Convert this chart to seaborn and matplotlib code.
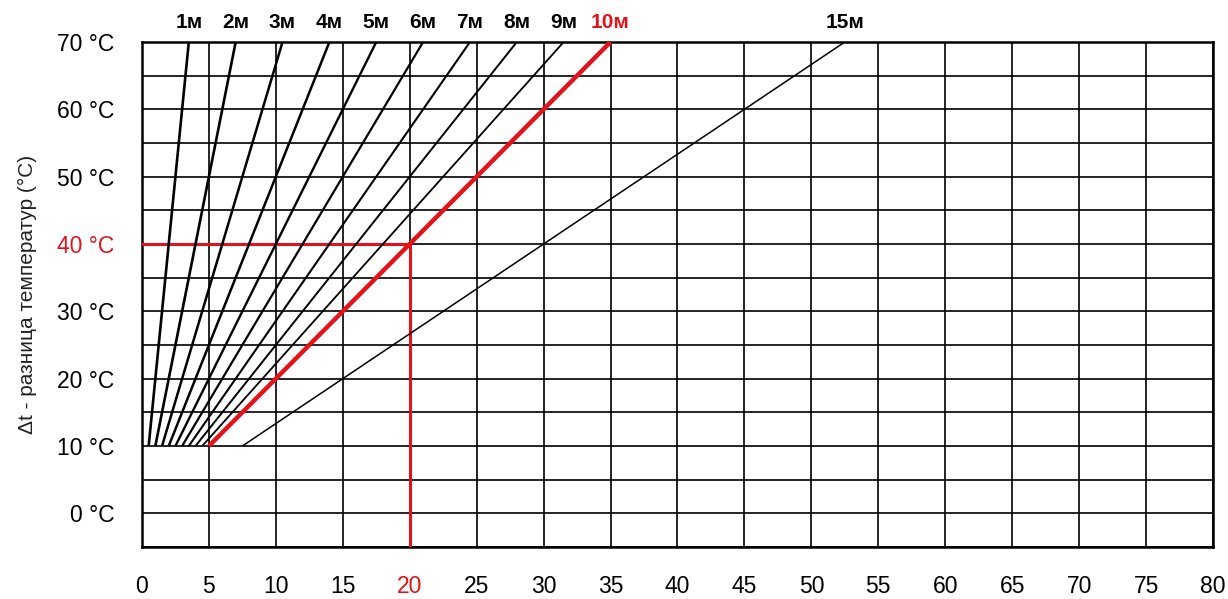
import numpy as np
import pandas as pd
import matplotlib
matplotlib.use("Agg")
import matplotlib.pyplot as plt
import seaborn as sns
from matplotlib.ticker import MultipleLocator

# Data
meters = ["1м", "2м", "3м", "4м", "5м", "6м", "7м", "8м", "9м", "10м", "15м"]
dt_start = 10          # lines start at Δt = 10 °C
dt_end = 70            # and end at Δt = 70 °C
x_at_start = [0.5, 1.0, 1.5, 2.0, 2.5, 3.0, 3.5, 4.0, 4.5, 5.0, 7.5]
x_at_end = [3.5, 7.0, 10.5, 14.0, 17.5, 21.0, 24.5, 28.0, 31.5, 35.0, 52.5]
ref_x = 20             # example reading: 20 on x-axis
ref_y = 40             # example reading: 40 °C
x_ticks = list(range(0, 85, 5))
y_ticks = list(range(0, 80, 10))
highlight = "10м"

rows = []
for m, xs, xe in zip(meters, x_at_start, x_at_end):
    rows.append({"meter": m, "x": xs, "dt": dt_start})
    rows.append({"meter": m, "x": xe, "dt": dt_end})
df = pd.DataFrame(rows)

sns.set_style("white")
plt.rcParams["font.family"] = ["Liberation Sans", "DejaVu Sans"]

RED = "#e3131b"
fig = plt.figure(figsize=(12.28, 5.99), dpi=100)
ax = fig.add_axes([0.1156, 0.0868, 0.8722, 0.8431])

widths = [1.9, 1.9, 1.8, 1.8, 1.7, 1.6, 1.5, 1.4, 1.3, 3.2, 1.1]
for m, lw in zip(meters, widths):
    sub = df[df["meter"] == m]
    color = RED if m == highlight else "black"
    sns.lineplot(data=sub, x="x", y="dt", color=color, linewidth=lw,
                 ax=ax, zorder=4, solid_capstyle="butt")
    top = sub["x"].max()
    ax.text(top, dt_end + 1.5, m, ha="center", va="bottom",
            fontsize=15, fontweight="bold", color=color, clip_on=False)

# reference reading lines
ax.plot([0, ref_x], [ref_y, ref_y], color=RED, lw=2.2, zorder=3)
ax.plot([ref_x, ref_x], [-5, ref_y], color=RED, lw=2.2, zorder=3)

ax.set_xlim(0, 80)
ax.set_ylim(-5, 70)
ax.set_xticks(x_ticks)
ax.set_yticks(y_ticks)
ax.set_yticklabels([f"{v} °C" for v in y_ticks])
ax.yaxis.set_minor_locator(MultipleLocator(5))
ax.grid(True, which="both", color="black", linewidth=1.2)
ax.set_axisbelow(True)
ax.tick_params(axis="both", which="both", length=0, labelsize=16.5,
               labelcolor="black")
ax.tick_params(axis="x", pad=20)
ax.tick_params(axis="y", pad=20)

for lbl, v in zip(ax.get_xticklabels(), x_ticks):
    if v == ref_x:
        lbl.set_color(RED)
for lbl, v in zip(ax.get_yticklabels(), y_ticks):
    if v == ref_y:
        lbl.set_color(RED)

for s in ax.spines.values():
    s.set_visible(True)
    s.set_color("black")
    s.set_linewidth(1.8)

ax.set_xlabel("")
ax.set_ylabel("Δt - разница температур (°C)", fontsize=15, labelpad=14,
              color="#222222")

fig.savefig("out.png", dpi=100)
